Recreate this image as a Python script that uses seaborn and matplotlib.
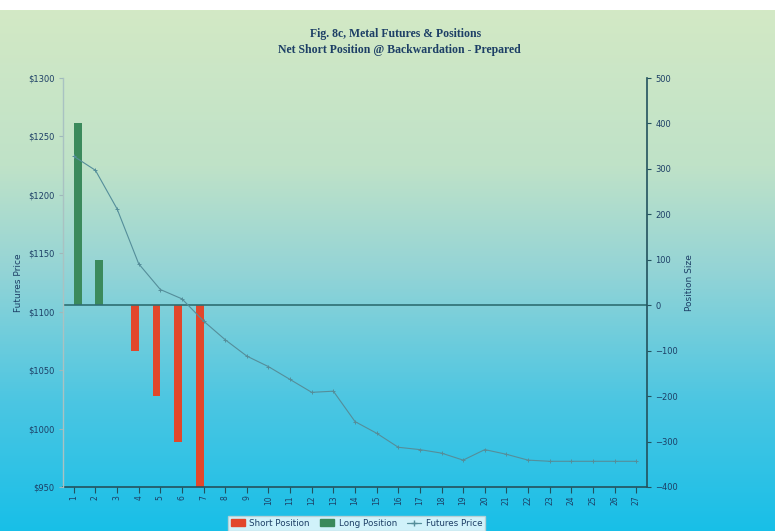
import numpy as np
import pandas as pd
import matplotlib
matplotlib.use("Agg")
import matplotlib.pyplot as plt
import seaborn as sns
from matplotlib.colors import LinearSegmentedColormap
from matplotlib.patches import Patch
from matplotlib.lines import Line2D

# Contract months along the curve
contracts = ["1", "2", "3", "4", "5", "6", "7", "8", "9", "10", "11", "12", "13", "14",
             "15", "16", "17", "18", "19", "20", "21", "22", "23", "24", "25", "26", "27"]

# Futures price per contract ($)
futures_price = [1233, 1221, 1188, 1141, 1119, 1111, 1092, 1076, 1062, 1053, 1042, 1031,
                 1032, 1006, 996, 984, 982, 979, 973, 982, 978, 973, 972, 972, 972, 972, 972]

# Position sizes per contract
short_position = [0, 0, 0, -100, -200, -300, -400, 0, 0, 0, 0, 0, 0, 0,
                  0, 0, 0, 0, 0, 0, 0, 0, 0, 0, 0, 0, 0]
long_position = [400, 100, 0, 0, 0, 0, 0, 0, 0, 0, 0, 0, 0, 0,
                 0, 0, 0, 0, 0, 0, 0, 0, 0, 0, 0, 0, 0]

price_ticks = [950, 1000, 1050, 1100, 1150, 1200, 1250, 1300]
price_tick_labels = ["$950", "$1000", "$1050", "$1100", "$1150", "$1200", "$1250", "$1300"]
position_ticks = [-400, -300, -200, -100, 0, 100, 200, 300, 400, 500]

positions = pd.DataFrame({
    "Contract": contracts * 2,
    "Size": short_position + long_position,
    "Position": ["Short Position"] * len(contracts) + ["Long Position"] * len(contracts),
})

sns.set_theme(style="ticks")
plt.rcParams["font.family"] = ["DejaVu Sans"]

RED = "#e2472b"
GREEN = "#3b8a5c"
LINE = "#558e9a"
TEXT = "#1d3f66"
DARK = "#23525e"

fig = plt.figure(figsize=(7.75, 5.31), dpi=100)
fig.patch.set_facecolor("white")

# Vertical gradient backdrop: pale green at the top fading to cyan
bg = fig.add_axes([0, 0, 1, 521 / 531], zorder=-10)
cmap = LinearSegmentedColormap.from_list(
    "bg", [(0.0, "#d3e9c5"), (0.3, "#bfe2c8"), (0.5, "#94d4d6"),
           (0.75, "#4cc6e2"), (1.0, "#18bfe8")])
grad = np.linspace(0, 1, 256).reshape(-1, 1)
bg.imshow(grad, aspect="auto", cmap=cmap, extent=[0, 1, 0, 1])
bg.axis("off")

ax = fig.add_axes([63 / 775, 44 / 531, 584 / 775, 409 / 531])
ax.set_facecolor("none")
ax2 = ax.twinx()

# Bars on the position axis (right side)
sns.barplot(data=positions, x="Contract", y="Size", hue="Position",
            hue_order=["Short Position", "Long Position"], palette=[RED, GREEN],
            width=0.72, dodge=True, saturation=1, legend=False, linewidth=0, ax=ax)
ax.axhline(0, color="#2f6e72", lw=1.2, zorder=1)

# Futures price line on the price axis (left side)
sns.lineplot(x=np.arange(len(contracts)), y=futures_price, ax=ax2, color=LINE, lw=0.8,
             marker="+", markersize=3.5, markeredgewidth=0.7, markeredgecolor=LINE)

ax.set_xlim(-0.5, len(contracts) - 0.5)

ax.set_ylim(-400, 500)
ax.set_yticks(position_ticks)
ax.yaxis.tick_right()
ax.yaxis.set_label_position("right")
ax.set_ylabel("Position Size", fontsize=6.5, color=TEXT, labelpad=5, rotation=90)
ax.set_xlabel("")
ax.tick_params(axis="x", rotation=90, labelsize=5.5, labelcolor=TEXT, length=4, width=0.8,
               color=DARK, pad=2, bottom=True)
ax.tick_params(axis="y", labelsize=6, labelcolor=TEXT, length=3, width=0.8, color=DARK, pad=3,
               right=True, left=False, labelright=True, labelleft=False)
ax.spines["top"].set_visible(False)
ax.spines["left"].set_visible(False)
ax.spines["right"].set_visible(False)
ax.spines["bottom"].set_color(DARK)
ax.spines["bottom"].set_linewidth(1.2)

ax2.set_ylim(950, 1300)
ax2.set_yticks(price_ticks)
ax2.set_yticklabels(price_tick_labels)
ax2.yaxis.tick_left()
ax2.yaxis.set_label_position("left")
ax2.set_ylabel("Futures Price", fontsize=6.5, color=TEXT, labelpad=4)
ax2.tick_params(axis="y", labelsize=6, labelcolor=TEXT, length=3, width=0.8,
                color="#9fb9bb", pad=3, left=True, right=False, labelleft=True, labelright=False)
for side in ["top", "bottom"]:
    ax2.spines[side].set_visible(False)
ax2.spines["left"].set_color("#a9c2c2")
ax2.spines["left"].set_linewidth(1.0)
ax2.spines["right"].set_color(DARK)
ax2.spines["right"].set_linewidth(1.2)

fig.text(0.51, 1 - 34 / 531, "Fig. 8c, Metal Futures & Positions", ha="center", va="center",
         fontsize=8.5, fontweight="bold", color=TEXT, family="Liberation Serif")
fig.text(0.515, 1 - 50 / 531, "Net Short Position @ Backwardation - Prepared", ha="center",
         va="center", fontsize=8.5, fontweight="bold", color=TEXT, family="Liberation Serif")

handles = [Patch(facecolor=RED, edgecolor=RED, label="Short Position"),
           Patch(facecolor=GREEN, edgecolor=GREEN, label="Long Position"),
           Line2D([0], [0], color=LINE, lw=0.9, marker="+", markersize=4, label="Futures Price")]
leg = fig.legend(handles=handles, loc="lower center", bbox_to_anchor=(0.46, -0.008), ncol=3,
                 frameon=True, fancybox=False, facecolor="white", edgecolor="#c8d0d0",
                 fontsize=6.3, handlelength=1.6, handleheight=0.8, columnspacing=1.2,
                 borderpad=0.35, handletextpad=0.5)
for t in leg.get_texts():
    t.set_color(TEXT)

fig.savefig("out.png", dpi=100)
